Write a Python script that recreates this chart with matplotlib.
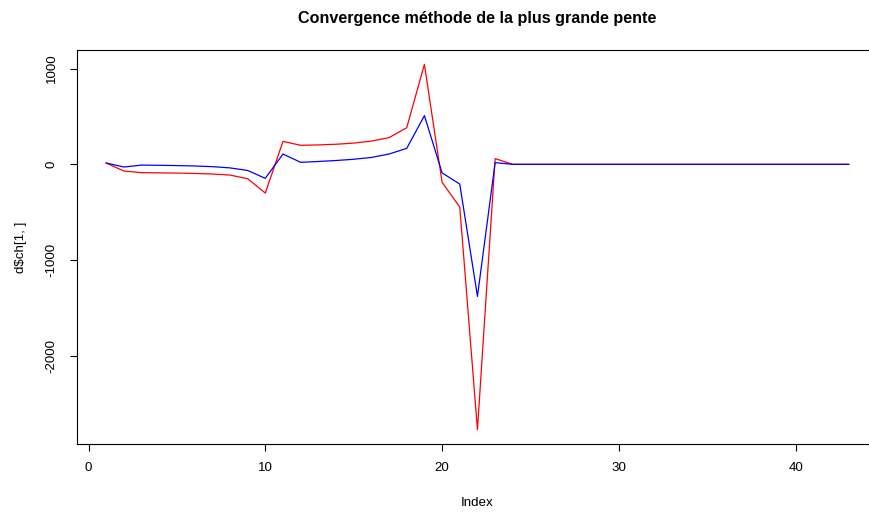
import matplotlib
matplotlib.use("Agg")
import matplotlib.pyplot as plt
import numpy as np

plt.rcParams['font.family'] = ['Liberation Sans', 'DejaVu Sans']

index = list(range(1, 44))
red = [14, -70, -87, -89, -91, -95, -101, -112, -150, -300,
       240, 199, 203, 210, 222, 243, 279, 383, 1045, -188,
       -446, -2772, 60, 0] + [0] * 19
blue = [14, -28, -8, -10, -13, -17, -24, -37, -64, -146,
        108, 21, 30, 40, 53, 72, 108, 167, 509, -89,
        -206, -1379, 18, 0] + [0] * 19

title = "Convergence méthode de la plus grande pente"
xlabel = "Index"
ylabel = "d$ch[1, ]"
xticks = [0, 10, 20, 30, 40]
yticks = [-2000, -1000, 0, 1000]

fig = plt.figure(figsize=(8.69, 5.14), dpi=100)
left_px, right_px = 76.5, 878.4
ax = fig.add_axes([left_px / 869, (514 - 444.3) / 514, (right_px - left_px) / 869, (444.3 - 49.7) / 514])

ax.plot(index, red, color='red', lw=0.9)
ax.plot(index, blue, color='blue', lw=0.9)

allv = red + blue
xr = max(index) - min(index)
ax.set_xlim(min(index) - 0.04 * xr, max(index) + 0.04 * xr)
yr = max(allv) - min(allv)
ax.set_ylim(min(allv) - 0.04 * yr, max(allv) + 0.04 * yr)

fs = 9.6
ax.set_xticks(xticks)
ax.set_yticks(yticks)
ax.set_xticklabels([str(t) for t in xticks])
ax.set_yticklabels([str(t) for t in yticks], rotation=90, va='center')
ax.tick_params(direction='out', length=5, width=0.8, labelsize=fs, pad=7.5)
ax.tick_params(axis='y', pad=8.5)

for s in ax.spines.values():
    s.set_linewidth(0.8)
    s.set_color('black')

ax.set_xlabel(xlabel, fontsize=fs, va='center')
ax.xaxis.set_label_coords(0.5, -0.1488)
ax.set_ylabel(ylabel, fontsize=fs, va='center')
ax.yaxis.set_label_coords(-0.0704 * (868 - 76.7) / (right_px - left_px), 0.5)
ax.set_title(title, fontsize=11.6, fontweight='bold', y=1.0803, va='center', pad=0)

fig.savefig("out.png", dpi=100)
